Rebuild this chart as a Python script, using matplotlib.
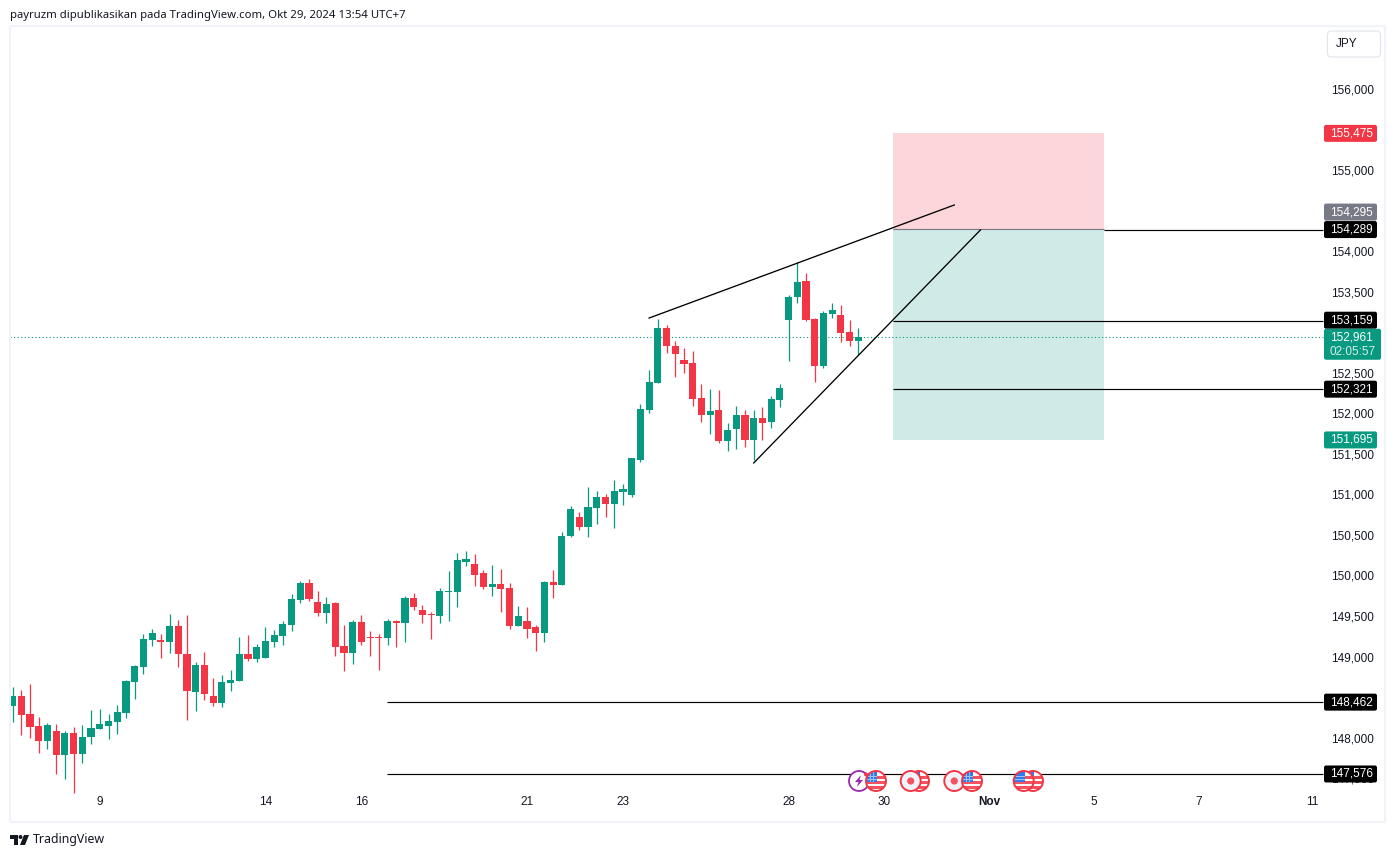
import numpy as np
import matplotlib
matplotlib.use("Agg")
import matplotlib.pyplot as plt
from matplotlib.patches import Rectangle, Circle, Polygon, FancyBboxPatch
from matplotlib.transforms import blended_transform_factory, ScaledTranslation

# === DATA ===
highs = [148653, 148612, 148686, 148279, 148205, 148193, 148107, 148156, 148181, 148365,
         148378, 148316, 148427, 148735, 148920, 149303, 149364, 149303, 149549, 149475,
         149537, 148957, 149081, 148760, 148797, 148859, 149266, 149290, 149179, 149389,
         149352, 149463, 149796, 149956, 149981, 149833, 149759, 149697, 149414, 149475,
         149537, 149340, 149303, 149488, 149475, 149771, 149808, 149660, 149574, 149870,
         150079, 150301, 150326, 150289, 150092, 150153, 150104, 149932, 149648, 149636,
         149414, 149956, 150092, 150560, 150880, 150806, 151114, 151065, 151028, 151201,
         151151, 151472, 152138, 152557, 153186, 153112, 152915, 152829, 152792, 152385,
         152323, 152311, 151904, 152114, 152064, 152064, 152101, 152237, 152385, 153482,
         153889, 153753, 153199, 153285, 153384, 153359, 153174, 153075]
lows = [148218, 148057, 148020, 147835, 147885, 147576, 147515, 147342, 147712, 147946,
        148131, 148008, 148070, 148267, 148501, 148809, 149155, 149007, 149068, 148896,
        148242, 148353, 148489, 148415, 148402, 148600, 148723, 148970, 148957, 149007,
        149142, 149167, 149340, 149685, 149710, 149525, 149438, 149031, 148846, 148933,
        149167, 149031, 148859, 149167, 149142, 149204, 149599, 149438, 149241, 149438,
        149463, 149636, 150141, 149895, 149858, 149771, 149574, 149364, 149401, 149253,
        149093, 149204, 149747, 149906, 150498, 150584, 150498, 150658, 150744, 150609,
        150892, 150991, 151423, 152027, 152397, 152767, 152471, 152520, 152114, 151916,
        151768, 151657, 151559, 151583, 151608, 151448, 151694, 151842, 152101, 152668,
        153384, 153162, 152409, 152582, 153199, 152903, 152853, 152742]
opens = [148415, 148538, 148316, 148168, 147983, 148107, 147811, 148082, 147823, 148033,
         148131, 148168, 148218, 148329, 148711, 148896, 149229, 149229, 149204, 149401,
         149056, 148587, 148920, 148538, 148452, 148698, 148723, 149056, 148994, 149007,
         149204, 149278, 149414, 149722, 149932, 149697, 149562, 149685, 149155, 149068,
         149451, 149266, 149266, 149253, 149463, 149438, 149747, 149599, 149549, 149525,
         149821, 149821, 150190, 150166, 150055, 149882, 149919, 149870, 149401, 149463,
         149389, 149315, 149944, 149906, 150510, 150744, 150621, 150855, 150991, 150905,
         151053, 151016, 151447, 152064, 152397, 153075, 152853, 152681, 152644, 152212,
         152003, 152064, 151682, 151830, 152003, 151694, 151966, 151916, 152187, 153174,
         153457, 153655, 153186, 152607, 153248, 153236, 153026, 152915]
closes = [148538, 148304, 148156, 147983, 148181, 147811, 148082, 147823, 148033, 148144,
          148193, 148230, 148341, 148723, 148908, 149241, 149315, 149204, 149401, 149056,
          148600, 148920, 148563, 148452, 148711, 148735, 149056, 148994, 149142, 149216,
          149290, 149426, 149734, 149932, 149734, 149562, 149673, 149142, 149068, 149451,
          149204, 149253, 149253, 149463, 149438, 149747, 149636, 149537, 149537, 149833,
          149833, 150215, 150227, 150030, 149882, 149919, 149858, 149401, 149525, 149364,
          149315, 149944, 149907, 150510, 150843, 150621, 150868, 150991, 150905, 151065,
          151090, 151472, 152076, 152409, 153075, 152853, 152755, 152631, 152200, 152003,
          152052, 151682, 151818, 152003, 151694, 151966, 151904, 152200, 152335, 153457,
          153642, 153174, 152607, 153260, 153297, 153014, 152915, 152961]

date_pos = [10, 29, 40, 59, 70, 89, 100, 112, 124, 136, 149]
date_labels = ["9", "14", "16", "21", "23", "28", "30", "Nov", "5", "7", "11"]

# TradingView drops the ticks that collide with a price tag, only 147,500 peeks out
price_ticks = [147500, 148000, 149000, 149500, 150000, 150500, 151000, 151500,
               152000, 152500, 153500, 154000, 155000, 156000]

last_price = 152961
stop_price = 155475
entry_price = 154289
entry_tag = 154295
target_price = 151695
box_start, box_end = 101, 125.2

hlines_upper = [153159, 152321]
hlines_lower = [148462, 147576]
upper_start, lower_start, hline_end = 101, 42.9, 150.3

wedge_top_x, wedge_top_y = [73, 108], [153198, 154592]
wedge_low_x, wedge_low_y = [85, 111], [151411, 154284]

GREEN = "#089981"
RED = "#F23645"
DARK = "#131722"
BORDER = "#F0F3FA"
FONT = ["Liberation Sans", "DejaVu Sans"]
TICK_SIZE = 8.45

plt.rcParams["font.family"] = FONT
fig = plt.figure(figsize=(13.95, 8.57), dpi=100)

# chart pane: x 10..1385, y 26..822 in pixels
ax = fig.add_axes([10 / 1395, 1 - 822 / 857, 1375 / 1395, 796 / 857])
ax.set_xlim(-0.298, 157.4)
ax.set_ylim(146984, 156799)
for s in ax.spines.values():
    s.set_visible(False)

x = np.arange(len(opens))
o, c, h, l = map(np.array, (opens, closes, highs, lows))
up = c >= o
colors = np.where(up, GREEN, RED)
ax.vlines(x, l, h, colors=colors, linewidth=0.9, zorder=3)
ax.bar(x, np.abs(c - o), bottom=np.minimum(o, c), width=0.82, color=colors, linewidth=0, zorder=3)

# risk/reward boxes
box_lo = (box_start + 0.298) / 157.698
box_hi = (box_end + 0.298) / 157.698
ax.axhspan(entry_tag, stop_price, xmin=box_lo, xmax=box_hi, color=RED, alpha=0.2, linewidth=0, zorder=1)
ax.axhspan(target_price, entry_tag, xmin=box_lo, xmax=box_hi, color=GREEN, alpha=0.19, linewidth=0, zorder=1)
ax.hlines(entry_tag, box_start, box_end, colors="#787B86", linewidth=0.85, zorder=2)

# levels, the black entry line only shows right of the box
ax.hlines(entry_price, box_end, hline_end, colors="black", linewidth=0.85, zorder=4)
ax.hlines(hlines_upper, upper_start, hline_end, colors="black", linewidth=0.85, zorder=4)
ax.hlines(hlines_lower, lower_start, hline_end, colors="black", linewidth=0.85, zorder=4)
ax.plot(wedge_top_x, wedge_top_y, color="black", linewidth=0.95, zorder=4)
ax.plot(wedge_low_x, wedge_low_y, color="black", linewidth=0.95, zorder=4)
ax.hlines(last_price, -0.298, hline_end, colors=GREEN, linewidth=0.8, linestyles=(0, (1, 2.2)), zorder=2)

# axes ticks drawn inside the pane
ax.set_xticks(date_pos, date_labels)
ax.tick_params(axis="x", length=0, pad=-19, labelsize=TICK_SIZE, labelcolor=DARK)
ax.set_yticks(price_ticks, [f"{t:,}" for t in price_ticks])
ax.yaxis.tick_right()
ax.tick_params(axis="y", length=0, pad=-38.5, labelsize=TICK_SIZE, labelcolor=DARK)
up_shift = ScaledTranslation(0, 2 / 100, fig.dpi_scale_trans)
for t in ax.get_yticklabels():
    t.set_transform(t.get_transform() + up_shift)
for t, lab in zip(ax.get_xticklabels(), date_labels):
    if lab == "Nov":
        t.set_fontweight("bold")

# price tags on the axis
trans = blended_transform_factory(ax.transAxes, ax.transData)
TAG_X0 = (1324 - 10) / 1375
TAG_W = 53 / 1375
PX = 12.33  # price units per pixel


def tag(price, text, color, shift=0, width=TAG_W, lines=1, zorder=6):
    height = 17 * PX if lines == 1 else 31 * PX
    y0 = price + shift - height / 2
    box = FancyBboxPatch((TAG_X0, y0), width, height, boxstyle="round,pad=0,rounding_size=0.0015",
                         mutation_aspect=17000, transform=trans, fc=color, ec="none", zorder=zorder,
                         clip_on=False)
    ax.add_patch(box)
    if text:
        ax.text(TAG_X0 + TAG_W / 2 + 0.0005, price + shift, text, transform=trans,
                ha="center", va="center", color="white", fontsize=TICK_SIZE, zorder=zorder + 1)


tag(stop_price, f"{stop_price:,}", RED)
tag(entry_tag, f"{entry_tag:,}", "#787B86", shift=17 * PX)
tag(entry_price, f"{entry_price:,}", "black", zorder=7)
tag(target_price, f"{target_price:,}", GREEN)
tag(153159, "153,159", "black", shift=1 * PX)
tag(152321, "152,321", "black")
tag(148462, "148,462", "black")
tag(147576, "147,576", "black")
tag(last_price - 7 * PX, "", GREEN, width=57 / 1375, lines=2)
ax.text(TAG_X0 + TAG_W / 2 + 0.0005, last_price, f"{last_price:,}", transform=trans, ha="center", va="center",
        color="white", fontsize=TICK_SIZE, zorder=8)
ax.text(TAG_X0 + TAG_W / 2 + 0.0015, last_price - 14.5 * PX, "02:05:57", transform=trans, ha="center", va="center",
        color="#D5EEEA", fontsize=TICK_SIZE, zorder=8)

# pixel layer for the chrome around the chart
px = fig.add_axes([0, 0, 1, 1], facecolor="none")
px.set_xlim(0, 1395)
px.set_ylim(857, 0)
px.axis("off")
px.add_patch(Rectangle((10, 26), 1375, 796, fc="none", ec=BORDER, lw=1.5))
px.text(10, 15, "payruzm dipublikasikan pada TradingView.com, Okt 29, 2024 13:54 UTC+7", fontsize=8.18,
        family=["Noto Sans", "DejaVu Sans"], color=DARK, ha="left", va="center")

px.add_patch(FancyBboxPatch((1327.5, 31), 53, 26, boxstyle="round,pad=0,rounding_size=4", fc="white",
                            ec="#E0E3EB", lw=0.8))
px.text(1346.5, 43.5, "JPY", fontsize=TICK_SIZE, color=DARK, ha="center", va="center")


# event icons
def flag(cx, z, cy=781, r=10):
    ring = Circle((cx, cy), r, fc="white", ec="none", zorder=z)
    px.add_patch(ring)
    parts = [Rectangle((cx - r, cy - 5.5 + k * 5), 2 * r, 3, fc="#F7525F", ec="none", zorder=z + 0.1)
             for k in range(3)]
    parts.append(Rectangle((cx - r, cy - r), r + 1, r + 1, fc="#2E7BEF", ec="none", zorder=z + 0.2))
    parts.append(Rectangle((cx - 6, cy - r), 0.7, r + 1, fc="#9CC2F7", ec="none", zorder=z + 0.3))
    parts.append(Rectangle((cx - 3, cy - r), 0.7, r + 1, fc="#9CC2F7", ec="none", zorder=z + 0.3))
    parts.append(Rectangle((cx - r, cy - 5), r + 1, 0.7, fc="#9CC2F7", ec="none", zorder=z + 0.3))
    parts.append(Rectangle((cx - r, cy - 2), r + 1, 0.7, fc="#9CC2F7", ec="none", zorder=z + 0.3))
    for p in parts:
        px.add_patch(p)
        p.set_clip_path(ring)
    px.add_patch(Circle((cx, cy), r, fc="none", ec=RED, lw=1.4, zorder=z + 0.4))


def dot(cx, z, cy=781, r=10):
    px.add_patch(Circle((cx, cy), r, fc="#F0F3FA", ec=RED, lw=1.4, zorder=z))
    px.add_patch(Circle((cx, cy), 3.6, fc="#F7525F", ec="none", zorder=z + 0.1))


px.add_patch(Circle((859, 781), 10, fc="white", ec="#9C27B0", lw=1.3, zorder=5))
px.add_patch(Polygon([(861, 775), (855, 782), (858.5, 782), (857, 787), (863, 780), (859.5, 780)],
                     fc="#9C27B0", ec="none", zorder=6))
flag(876, 7)
px.add_patch(Circle((866, 774.5), 2, fc=RED, ec="none", zorder=9))
flag(919, 5)
dot(910.7, 7)
flag(972, 7)
dot(954.3, 5)
flag(1033, 5)
flag(1023.7, 7)

# footer logo
px.add_patch(Polygon([(10, 835), (18, 835), (18, 845), (14, 845), (14, 839), (10, 839)], fc=DARK, ec="none"))
px.add_patch(Circle((20.5, 837), 2, fc=DARK, ec="none"))
px.add_patch(Polygon([(24, 835), (29, 835), (25, 845), (20, 845)], fc=DARK, ec="none"))
px.text(33, 840, "TradingView", fontsize=8.9, family=["Noto Sans", "DejaVu Sans"], color=DARK,
        ha="left", va="center")

fig.savefig("out.png", dpi=100, facecolor="white")
